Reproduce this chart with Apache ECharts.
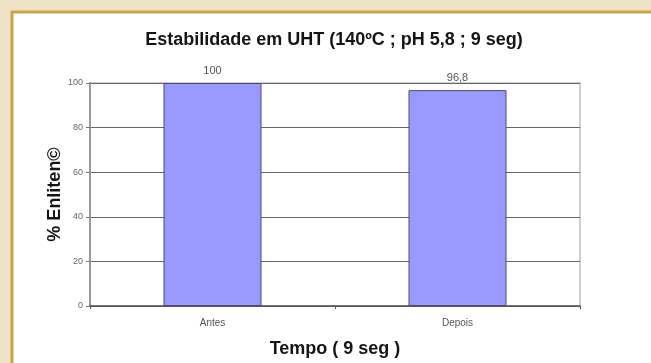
<!DOCTYPE html>
<html>
<head>
<meta charset="utf-8">
<script src="https://cdn.jsdelivr.net/npm/echarts@6/dist/echarts.min.js"></script>
<style>
  html, body { margin: 0; padding: 0; background: #EFE3C6; }
  #chart { width: 651px; height: 363px; }
</style>
</head>
<body>
<div id="chart"></div>
<script>
// Stability data for the UHT treatment
const categories = ['Antes', 'Depois'];
const values = [100, 96.8];
const valueLabels = ['100', '96,8'];
const yTicks = [0, 20, 40, 60, 80, 100];

const chart = echarts.init(document.getElementById('chart'), null, { renderer: 'canvas' });

const font = 'Liberation Sans, Arial, sans-serif';

chart.setOption({
  backgroundColor: '#EFE3C6',
  animation: false,
  graphic: [
    {
      type: 'rect',
      z: -10,
      shape: { x: 12, y: 12, width: 660, height: 380 },
      style: { fill: '#ffffff', stroke: '#C4A74B', lineWidth: 3 }
    }
  ],
  title: {
    text: 'Estabilidade em UHT (140\u00baC ; pH 5,8 ; 9 seg)',
    left: 329,
    textAlign: 'center',
    top: 26,
    textStyle: { fontFamily: font, fontSize: 18, fontWeight: 'bold', color: '#151515' }
  },
  grid: {
    left: 90, right: 71, top: 83, bottom: 55,
    show: true,
    borderColor: '#cfcfcf',
    borderWidth: 2,
    backgroundColor: 'transparent'
  },
  xAxis: {
    type: 'category',
    data: categories,
    name: 'Tempo ( 9 seg )',
    nameLocation: 'middle',
    nameGap: 34,
    nameMoveOverlap: false,
    nameTextStyle: { fontFamily: font, fontSize: 18, fontWeight: 'bold', color: '#151515' },
    axisLine: { lineStyle: { color: '#555', width: 1.5 } },
    axisTick: { show: true, length: 3, lineStyle: { color: '#555' } },
    axisLabel: { fontFamily: font, fontSize: 10, color: '#555', margin: 12 },
    splitLine: { show: false }
  },
  yAxis: {
    type: 'value',
    min: 0,
    max: 100,
    interval: 20,
    name: '% Enliten\u00a9',
    nameLocation: 'middle',
    nameGap: 26,
    nameMoveOverlap: false,
    nameTextStyle: { fontFamily: font, fontSize: 18, fontWeight: 'bold', color: '#151515' },
    axisLine: { show: true, lineStyle: { color: '#9a9a9a', width: 2 } },
    axisTick: { show: true, length: 4, lineStyle: { color: '#777' } },
    axisLabel: {
      fontFamily: font, fontSize: 9, color: '#666', margin: 7,
      formatter: v => (yTicks.includes(v) ? String(v) : '')
    },
    splitLine: { show: true, lineStyle: { color: '#666', width: 1 } }
  },
  series: [
    {
      type: 'bar',
      data: values,
      barWidth: '40%',
      itemStyle: { color: '#9999FF', borderColor: '#4a4a7a', borderWidth: 1 },
      label: {
        show: true,
        position: 'top',
        distance: 7,
        fontFamily: font,
        fontSize: 11,
        color: '#555',
        formatter: p => valueLabels[p.dataIndex]
      }
    }
  ]
});
</script>
</body>
</html>
